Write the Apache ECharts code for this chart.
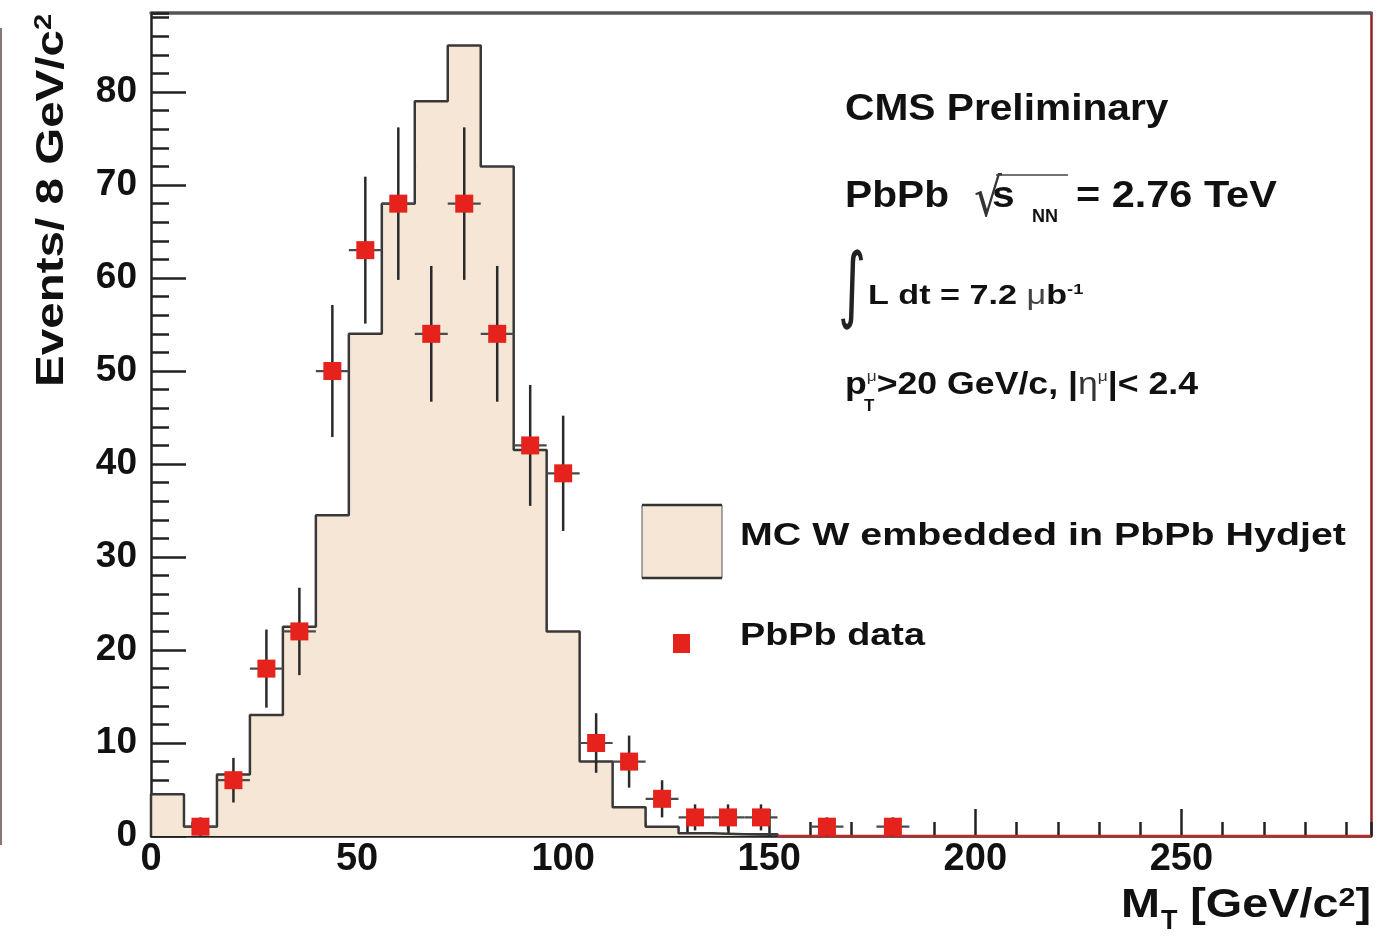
<!DOCTYPE html>
<html>
<head>
<meta charset="utf-8">
<title>W transverse mass, PbPb</title>
<script src="https://cdn.jsdelivr.net/npm/echarts@6/dist/echarts.min.js"></script>
<style>
  html, body { margin: 0; padding: 0; background: #ffffff; }
  #chart { width: 1378px; height: 941px; }
</style>
</head>
<body>
<div id="chart"></div>
<script>
// ---- histogram binning (GeV/c^2) ----
const binWidth = 8;
const binLow = [0, 8, 16, 24, 32, 40, 48, 56, 64, 72, 80, 88, 96, 104, 112, 120, 128, 136, 144];
// MC W embedded in PbPb Hydjet, events per bin
const mcCounts = [4.5, 1.0, 6.6, 13, 22.5, 34.5, 54, 68, 79, 85, 72, 41.5, 22, 8, 3.1, 1.0, 0.3, 0.2, 0.2];

// PbPb data: bin centres, counts and statistical errors
const dataMt = [12, 20, 28, 36, 44, 52, 60, 68, 76, 84, 92, 100, 108, 116, 124, 132, 140, 148, 164, 180];
const dataCounts = [1, 6, 18, 22, 50, 63, 68, 54, 68, 54, 42, 39, 10, 8, 4, 2, 2, 2, 1, 1];
const dataErr = [1, 2.4, 4.2, 4.7, 7.1, 7.9, 8.2, 7.3, 8.2, 7.3, 6.5, 6.2, 3.2, 2.8, 2, 1.4, 1.4, 1.4, 1, 1];

// empty range of the data histogram, drawn along zero
const emptyTail = [152, 296];

// axis ranges
const xRange = [0, 296];
const yRange = [0, 88.5];

const FONT = '"Liberation Sans", Arial, Helvetica, sans-serif';
const FILL = '#f5e6d6';
const INK = '#111111';
const RED = '#e5221c';

// step outline of the MC histogram
const mcOutline = [[binLow[0], 0]];
binLow.forEach((lo, i) => {
  mcOutline.push([lo, mcCounts[i]], [lo + binWidth, mcCounts[i]]);
});
mcOutline.push([binLow[binLow.length - 1] + binWidth, 0]);

const chart = echarts.init(document.getElementById('chart'), null, { renderer: 'canvas' });

const hiddenAxisBits = { axisLabel: { show: false }, splitLine: { show: false } };

function label(text, x, y, size, extra) {
  return Object.assign({
    type: 'text', x: x, y: y, z: 10,
    style: { text: text, fontFamily: FONT, fontWeight: 'bold', fontSize: size,
             fill: INK, align: 'left', verticalAlign: 'middle' }
  }, extra || {});
}

const option = {
  animation: false,
  backgroundColor: '#ffffff',
  grid: { left: 151, right: 7, top: 13, bottom: 105, containLabel: false },
  xAxis: [
    {
      type: 'value', min: xRange[0], max: xRange[1], interval: 50, position: 'bottom',
      axisLine: { onZero: false, lineStyle: { color: '#222', width: 2.5 } },
      axisTick: { inside: true, length: 27, lineStyle: { color: '#222', width: 2.5 } },
      axisLabel: {
        color: INK, fontFamily: FONT, fontWeight: 'bold', fontSize: 38, lineHeight: 38,
        margin: 5, showMaxLabel: false
      },
      splitLine: { show: false }
    },
    Object.assign({
      type: 'value', min: xRange[0], max: xRange[1], interval: 10, position: 'bottom',
      axisLine: { show: false, onZero: false },
      axisTick: { inside: true, length: 14, lineStyle: { color: '#222', width: 2.5 } }
    }, hiddenAxisBits),
    Object.assign({
      type: 'value', min: xRange[0], max: xRange[1], position: 'top',
      axisLine: { onZero: false, lineStyle: { color: '#555', width: 3.5 } },
      axisTick: { show: false }
    }, hiddenAxisBits)
  ],
  yAxis: [
    {
      type: 'value', min: yRange[0], max: yRange[1], interval: 10, position: 'left',
      axisLine: { onZero: false, lineStyle: { color: '#222', width: 2.5 } },
      axisTick: { inside: true, length: 35, lineStyle: { color: '#222', width: 2.5 } },
      axisLabel: {
        color: INK, fontFamily: FONT, fontWeight: 'bold', fontSize: 37,
        margin: 14, showMaxLabel: false
      },
      splitLine: { show: false }
    },
    Object.assign({
      type: 'value', min: yRange[0], max: yRange[1], interval: 2, position: 'left',
      axisLine: { show: false, onZero: false },
      axisTick: { inside: true, length: 18, lineStyle: { color: '#222', width: 2.5 } }
    }, hiddenAxisBits),
    Object.assign({
      type: 'value', min: yRange[0], max: yRange[1], position: 'right',
      axisLine: { onZero: false, lineStyle: { color: '#8e2222', width: 2.5 } },
      axisTick: { show: false }
    }, hiddenAxisBits)
  ],
  series: [
    {
      name: 'MC W embedded in PbPb Hydjet',
      type: 'line',
      data: mcOutline,
      symbol: 'none',
      lineStyle: { color: '#383838', width: 2.5 },
      areaStyle: { color: FILL, opacity: 1 },
      z: 2,
      silent: true
    },
    {
      name: 'empty range',
      type: 'line',
      data: emptyTail.map(x => [x, 0]),
      symbol: 'none',
      clip: false,
      lineStyle: { color: '#c0282a', width: 2.5 },
      z: 3,
      silent: true
    },
    {
      name: 'PbPb data errors',
      type: 'custom',
      data: dataMt.map((x, i) => [x, dataCounts[i], dataErr[i]]),
      encode: { x: 0, y: 1 },
      z: 4,
      silent: true,
      renderItem(params, api) {
        const x = api.value(0), y = api.value(1), e = api.value(2);
        const c = api.coord([x, y]);
        const top = api.coord([x, y + e]);
        const bot = api.coord([x, Math.max(0, y - e)]);
        const l = api.coord([x - binWidth / 2, y]);
        const r = api.coord([x + binWidth / 2, y]);
        return {
          type: 'group',
          children: [
            { type: 'line', shape: { x1: l[0], y1: l[1], x2: r[0], y2: r[1] },
              style: { stroke: '#4a4a4a', lineWidth: 2.2 } },
            { type: 'line', shape: { x1: c[0], y1: top[1], x2: c[0], y2: bot[1] },
              style: { stroke: '#2a2a2a', lineWidth: 2.5 } }
          ]
        };
      }
    },
    {
      name: 'PbPb data',
      type: 'scatter',
      data: dataMt.map((x, i) => [x, dataCounts[i]]),
      symbol: 'rect',
      symbolSize: [18, 18],
      itemStyle: { color: RED, opacity: 1 },
      z: 5,
      silent: true
    }
  ],
  graphic: [
    // thin edge at the far left of the canvas
    { type: 'line', shape: { x1: 1, y1: 28, x2: 1, y2: 845 },
      style: { stroke: '#8a7676', lineWidth: 2 }, z: 10 },

    // y-axis title
    {
      type: 'text', x: 52, y: 387, rotation: Math.PI / 2, scaleX: 1.22, z: 10,
      style: {
        text: 'Events/ 8 GeV/c{sup|2}',
        fontFamily: FONT, fontWeight: 'bold', fontSize: 39, fill: INK,
        align: 'left', verticalAlign: 'middle',
        rich: { sup: { fontFamily: FONT, fontWeight: 'bold', fontSize: 24, verticalAlign: 'top', fill: INK } }
      }
    },
    // x-axis title
    label('M', 1121, 906, 40, { scaleX: 1.17 }),
    label('T', 1161, 922, 27),
    {
      type: 'text', x: 1371, y: 906, scaleX: 1.17, z: 10,
      style: {
        text: '[GeV/c{sup|2}]',
        fontFamily: FONT, fontWeight: 'bold', fontSize: 40, fill: INK,
        align: 'right', verticalAlign: 'middle',
        rich: { sup: { fontFamily: FONT, fontWeight: 'bold', fontSize: 26, verticalAlign: 'top', fill: INK } }
      }
    },

    // annotations
    label('CMS Preliminary', 845, 110, 37, { scaleX: 1.1 }),
    label('PbPb', 845, 197, 37, { scaleX: 1.1 }),
    {
      type: 'text', x: 974, y: 202, scaleY: 1.2, z: 10,
      style: { text: '\u221A', fontFamily: '"DejaVu Sans", ' + FONT, fontSize: 44,
               fill: '#333', align: 'left', verticalAlign: 'middle' }
    },
    { type: 'line', shape: { x1: 996, y1: 175, x2: 1068, y2: 175 },
      style: { stroke: '#444', lineWidth: 1.6 }, z: 10 },
    label('s', 992, 197, 37, { scaleX: 1.1 }),
    label('NN', 1032, 217, 18),
    label('= 2.76 TeV', 1076, 197, 37, { scaleX: 1.12 }),
    {
      type: 'text', x: 838, y: 290, scaleX: 0.75, scaleY: 1.15, z: 10,
      style: { text: '\u222B', fontFamily: '"DejaVu Sans", ' + FONT, fontSize: 72,
               fill: '#222', align: 'left', verticalAlign: 'middle' }
    },
    {
      type: 'text', x: 868, y: 296, scaleX: 1.22, z: 10,
      style: {
        text: 'L dt = 7.2 {mu|\u03BC}b{sup|-1}',
        fontFamily: FONT, fontWeight: 'bold', fontSize: 28, fill: INK,
        align: 'left', verticalAlign: 'middle',
        rich: {
          mu: { fontFamily: FONT, fontSize: 28, fill: '#444', verticalAlign: 'middle' },
          sup: { fontFamily: FONT, fontWeight: 'bold', fontSize: 15, verticalAlign: 'top', fill: INK }
        }
      }
    },
    {
      type: 'text', x: 845, y: 385, scaleX: 1.15, z: 10,
      style: {
        text: 'p{sup|\u03BC}>20 GeV/c, |{eta|\u03B7}{sup|\u03BC}|< 2.4',
        fontFamily: FONT, fontWeight: 'bold', fontSize: 31, fill: INK,
        align: 'left', verticalAlign: 'middle',
        rich: {
          sup: { fontFamily: FONT, fontSize: 15, verticalAlign: 'top', fill: '#333' },
          eta: { fontFamily: FONT, fontSize: 31, fill: '#333', verticalAlign: 'middle' }
        }
      }
    },
    label('T', 864, 406, 17),

    // legend
    { type: 'rect', shape: { x: 642, y: 505, width: 80, height: 73 },
      style: { fill: FILL, stroke: '#555', lineWidth: 1 }, z: 10 },
    { type: 'line', shape: { x1: 642, y1: 505, x2: 722, y2: 505 },
      style: { stroke: '#333', lineWidth: 2.5 }, z: 11 },
    { type: 'line', shape: { x1: 642, y1: 578, x2: 722, y2: 578 },
      style: { stroke: '#333', lineWidth: 2.5 }, z: 11 },
    label('MC W embedded in PbPb Hydjet', 740, 536, 31, { scaleX: 1.27 }),
    { type: 'rect', shape: { x: 673, y: 634, width: 17, height: 19 },
      style: { fill: RED }, z: 10 },
    label('PbPb data', 740, 636, 31, { scaleX: 1.22 })
  ]
};

chart.setOption(option);
</script>
</body>
</html>
